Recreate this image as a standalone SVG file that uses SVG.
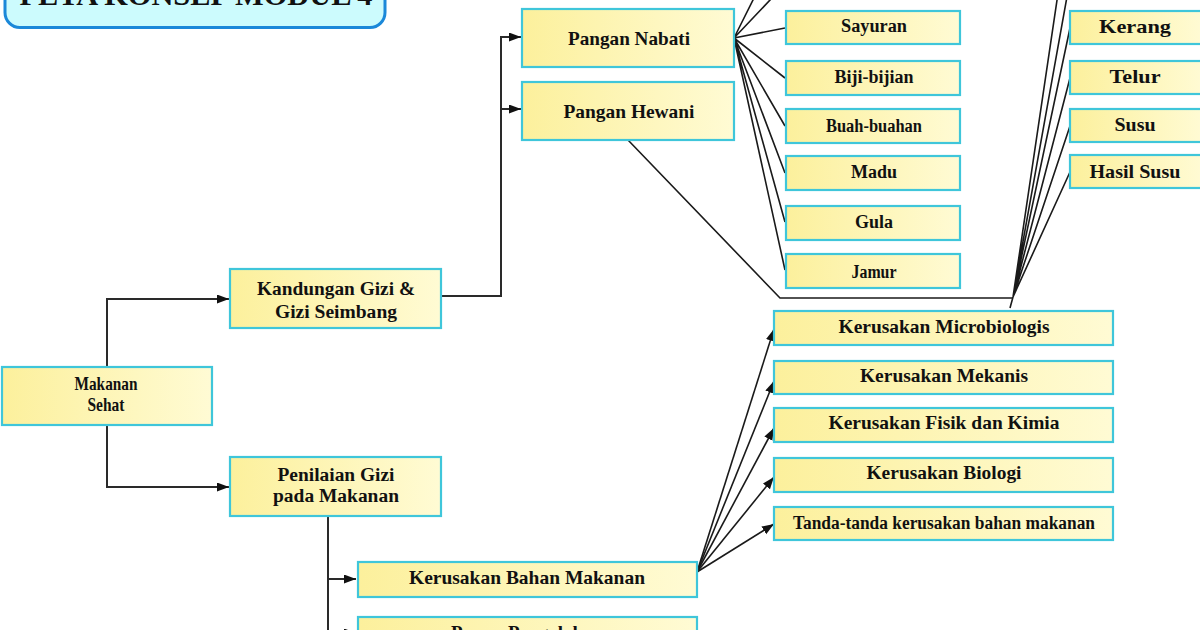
<svg xmlns="http://www.w3.org/2000/svg" width="1200" height="630" viewBox="0 0 1200 630">
<defs>
<linearGradient id="yg" x1="0" y1="0" x2="1" y2="0">
<stop offset="0" stop-color="#fcf09c"/>
<stop offset="1" stop-color="#fffbd4"/>
</linearGradient>
<marker id="ah" markerUnits="userSpaceOnUse" markerWidth="13" markerHeight="10" refX="12" refY="4.5" orient="auto">
<path d="M0,0 L12,4.5 L0,9 z" fill="#111"/>
</marker>
<style>
.box{fill:url(#yg);stroke:#3fc6da;stroke-width:2.2}
.t{font-family:"Liberation Serif","Times New Roman",serif;font-weight:bold;fill:#111;text-anchor:middle}
.s18{font-size:18px}
.s19{font-size:19px}
.c{fill:none;stroke:#1a1a1a;stroke-width:1.6}
.e{fill:none;stroke:#2a2a2a;stroke-width:2}
</style>
</defs>
<rect width="1200" height="630" fill="#fff"/>

<g id="title">
<rect x="5" y="-30" width="380" height="57.5" rx="15" fill="#ccfbfd" stroke="#1b88d9" stroke-width="3"/>
<text class="t" x="196" y="5" font-size="30" textLength="353" lengthAdjust="spacingAndGlyphs" font-weight="normal">PETA KONSEP MODUL 4</text>
</g>

<g id="connectors">
<path class="e" d="M107,367 V299 H229" marker-end="url(#ah)"/>
<path class="e" d="M107,425 V487 H229" marker-end="url(#ah)"/>
<path class="e" d="M441,296 H501 V37 H521" marker-end="url(#ah)"/>
<path class="e" d="M501,109 H521" marker-end="url(#ah)"/>
<path class="c" d="M734,38 L763,-20 M734,38 L789,-20 M734,38 L785,28 M734,38 L785,78 M734,38 L785,126 M734,38 L785,173 M734,38 L785,222 M734,38 L785,270"/>
<path class="c" d="M628,140 L780,298 H1013"/>
<path class="c" d="M1013,297 L1060,-20 M1013,297 L1070,-20 M1013,297 L1070,28 M1013,297 L1070,78 M1013,297 L1070,126 M1013,297 L1070,172 M1013,297 L1010,308"/>
<path class="e" d="M328,517 V640"/>
<path class="e" d="M328,579 H356" marker-end="url(#ah)"/>
<path class="e" d="M328,633 H356" marker-end="url(#ah)"/>
<path class="c" d="M697,572 L774,329" marker-end="url(#ah)"/>
<path class="c" d="M697,572 L774,381" marker-end="url(#ah)"/>
<path class="c" d="M697,572 L774,428" marker-end="url(#ah)"/>
<path class="c" d="M697,572 L774,477" marker-end="url(#ah)"/>
<path class="c" d="M697,572 L774,524" marker-end="url(#ah)"/>
</g>

<g id="makanan-sehat">
<rect class="box" x="2" y="367" width="210" height="58"/>
<text class="t" x="106" y="390" font-size="19" textLength="63" lengthAdjust="spacingAndGlyphs">Makanan</text>
<text class="t" x="106" y="411" font-size="19" textLength="37" lengthAdjust="spacingAndGlyphs">Sehat</text>
</g>

<g id="kandungan-gizi">
<rect class="box" x="230" y="269" width="211" height="59"/>
<text class="t s18" x="336" y="295" textLength="158" lengthAdjust="spacingAndGlyphs">Kandungan Gizi &amp;</text>
<text class="t s18" x="336" y="318" textLength="122" lengthAdjust="spacingAndGlyphs">Gizi Seimbang</text>
</g>

<g id="penilaian-gizi">
<rect class="box" x="230" y="457" width="211" height="59"/>
<text class="t s18" x="336" y="481" textLength="117" lengthAdjust="spacingAndGlyphs">Penilaian Gizi</text>
<text class="t s18" x="336" y="502" textLength="126" lengthAdjust="spacingAndGlyphs">pada Makanan</text>
</g>

<g id="pangan-nabati">
<rect class="box" x="522" y="9" width="212" height="58"/>
<text class="t s19" x="629" y="45" textLength="122" lengthAdjust="spacingAndGlyphs">Pangan Nabati</text>
</g>

<g id="pangan-hewani">
<rect class="box" x="522" y="82" width="212" height="58"/>
<text class="t s19" x="629" y="118" textLength="131" lengthAdjust="spacingAndGlyphs">Pangan Hewani</text>
</g>

<g id="sayuran">
<rect class="box" x="786" y="11" width="174" height="33"/>
<text class="t s18" x="874" y="32" textLength="66" lengthAdjust="spacingAndGlyphs">Sayuran</text>
</g>
<g id="biji-bijian">
<rect class="box" x="786" y="61" width="174" height="34"/>
<text class="t s18" x="874" y="83" textLength="79" lengthAdjust="spacingAndGlyphs">Biji-bijian</text>
</g>
<g id="buah-buahan">
<rect class="box" x="786" y="109" width="174" height="34"/>
<text class="t s18" x="874" y="132" textLength="96" lengthAdjust="spacingAndGlyphs">Buah-buahan</text>
</g>
<g id="madu">
<rect class="box" x="786" y="156" width="174" height="34"/>
<text class="t s18" x="874" y="178" textLength="46" lengthAdjust="spacingAndGlyphs">Madu</text>
</g>
<g id="gula">
<rect class="box" x="786" y="206" width="174" height="34"/>
<text class="t s18" x="874" y="228" textLength="38" lengthAdjust="spacingAndGlyphs">Gula</text>
</g>
<g id="jamur">
<rect class="box" x="786" y="254" width="174" height="34"/>
<text class="t s18" x="874" y="278" textLength="45" lengthAdjust="spacingAndGlyphs">Jamur</text>
</g>

<g id="kerang">
<rect class="box" x="1070" y="11" width="133" height="33"/>
<text class="t s19" x="1135" y="33" textLength="72" lengthAdjust="spacingAndGlyphs">Kerang</text>
</g>
<g id="telur">
<rect class="box" x="1070" y="61" width="133" height="33"/>
<text class="t s19" x="1135" y="83" textLength="51" lengthAdjust="spacingAndGlyphs">Telur</text>
</g>
<g id="susu">
<rect class="box" x="1070" y="109" width="133" height="33"/>
<text class="t s19" x="1135" y="131" textLength="41" lengthAdjust="spacingAndGlyphs">Susu</text>
</g>
<g id="hasil-susu">
<rect class="box" x="1070" y="155" width="133" height="33"/>
<text class="t s19" x="1135" y="178" textLength="91" lengthAdjust="spacingAndGlyphs">Hasil Susu</text>
</g>

<g id="kerusakan-bahan">
<rect class="box" x="358" y="562" width="339" height="35"/>
<text class="t s19" x="527" y="584" textLength="236" lengthAdjust="spacingAndGlyphs">Kerusakan Bahan Makanan</text>
</g>
<g id="proses-pengolahan">
<rect class="box" x="358" y="617" width="339" height="40"/>
<text class="t s19" x="527" y="639" textLength="152" lengthAdjust="spacingAndGlyphs">Proses Pengolahan</text>
</g>

<g id="k-microbiologis">
<rect class="box" x="774" y="311" width="339" height="34"/>
<text class="t s19" x="944" y="333" textLength="211" lengthAdjust="spacingAndGlyphs">Kerusakan Microbiologis</text>
</g>
<g id="k-mekanis">
<rect class="box" x="774" y="361" width="339" height="33"/>
<text class="t s19" x="944" y="382" textLength="168" lengthAdjust="spacingAndGlyphs">Kerusakan Mekanis</text>
</g>
<g id="k-fisik-kimia">
<rect class="box" x="774" y="408" width="339" height="34"/>
<text class="t s19" x="944" y="429" textLength="231" lengthAdjust="spacingAndGlyphs">Kerusakan Fisik dan Kimia</text>
</g>
<g id="k-biologi">
<rect class="box" x="774" y="458" width="339" height="34"/>
<text class="t s19" x="944" y="479" textLength="155" lengthAdjust="spacingAndGlyphs">Kerusakan Biologi</text>
</g>
<g id="k-tanda">
<rect class="box" x="774" y="507" width="339" height="33"/>
<text class="t s18" x="944" y="529" textLength="302" lengthAdjust="spacingAndGlyphs">Tanda-tanda kerusakan bahan makanan</text>
</g>
</svg>
